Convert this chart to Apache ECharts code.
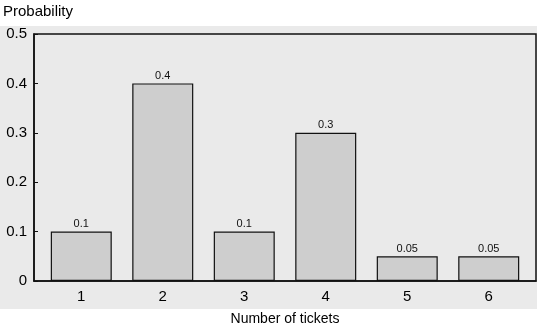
<!DOCTYPE html>
<html><head><meta charset="utf-8">
<script src="https://cdn.jsdelivr.net/npm/echarts@6/dist/echarts.min.js"></script>
<style>html,body{margin:0;padding:0;background:#fff}#c{width:537px;height:328px}</style>
</head><body><div id="c"></div>
<script>
const categories = [1, 2, 3, 4, 5, 6];
const probs = [0.1, 0.4, 0.1, 0.3, 0.05, 0.05];
const barLabels = ['0.1', '0.4', '0.1', '0.3', '0.05', '0.05'];
const yTicks = [0, 0.1, 0.2, 0.3, 0.4, 0.5];

const chart = echarts.init(document.getElementById('c'), null, {renderer: 'canvas'});
const font = 'Liberation Sans, Arial, sans-serif';
chart.setOption({
  animation: false,
  backgroundColor: '#fff',
  graphic: [
    {type: 'rect', z: -10, silent: true, shape: {x: 0, y: 26, width: 537, height: 283}, style: {fill: '#eaeaea'}},
    {type: 'text', left: 3, top: 4, style: {text: 'Probability', font: '15px ' + font, fill: '#000'}}
  ],
  grid: {left: 34, right: 1, top: 34, bottom: 47, outerBoundsMode: 'none', containLabel: false,
    show: true, borderColor: '#111', borderWidth: 1.5, backgroundColor: 'transparent'},
  xAxis: {
    type: 'value', min: 0.42, max: 6.58,
    name: 'Number of tickets', nameLocation: 'middle', nameGap: 31,
    nameTextStyle: {fontFamily: font, fontSize: 14, color: '#000'},
    axisLine: {show: true, lineStyle: {color: '#111', width: 1.5}},
    axisTick: {show: true, inside: true, length: 4, customValues: categories, lineStyle: {color: '#111'}},
    axisLabel: {customValues: categories, fontFamily: font, fontSize: 15, color: '#000', margin: 8},
    splitLine: {show: false}
  },
  yAxis: {
    type: 'value', min: 0, max: 0.5,
    axisLine: {show: true, lineStyle: {color: '#111', width: 1.5}},
    axisTick: {show: true, inside: true, length: 4, customValues: yTicks, lineStyle: {color: '#111'}},
    axisLabel: {customValues: yTicks, fontFamily: font, fontSize: 15, color: '#000', margin: 7},
    splitLine: {show: false}
  },
  series: [{
    type: 'bar',
    barWidth: 61,
    data: categories.map((c, i) => [c, probs[i]]),
    itemStyle: {color: '#cecece', borderColor: '#111', borderWidth: 1.2},
    label: {show: true, position: 'top', distance: 2, fontFamily: font, fontSize: 11, color: '#111',
      formatter: p => barLabels[p.dataIndex]}
  }]
});
</script></body></html>
